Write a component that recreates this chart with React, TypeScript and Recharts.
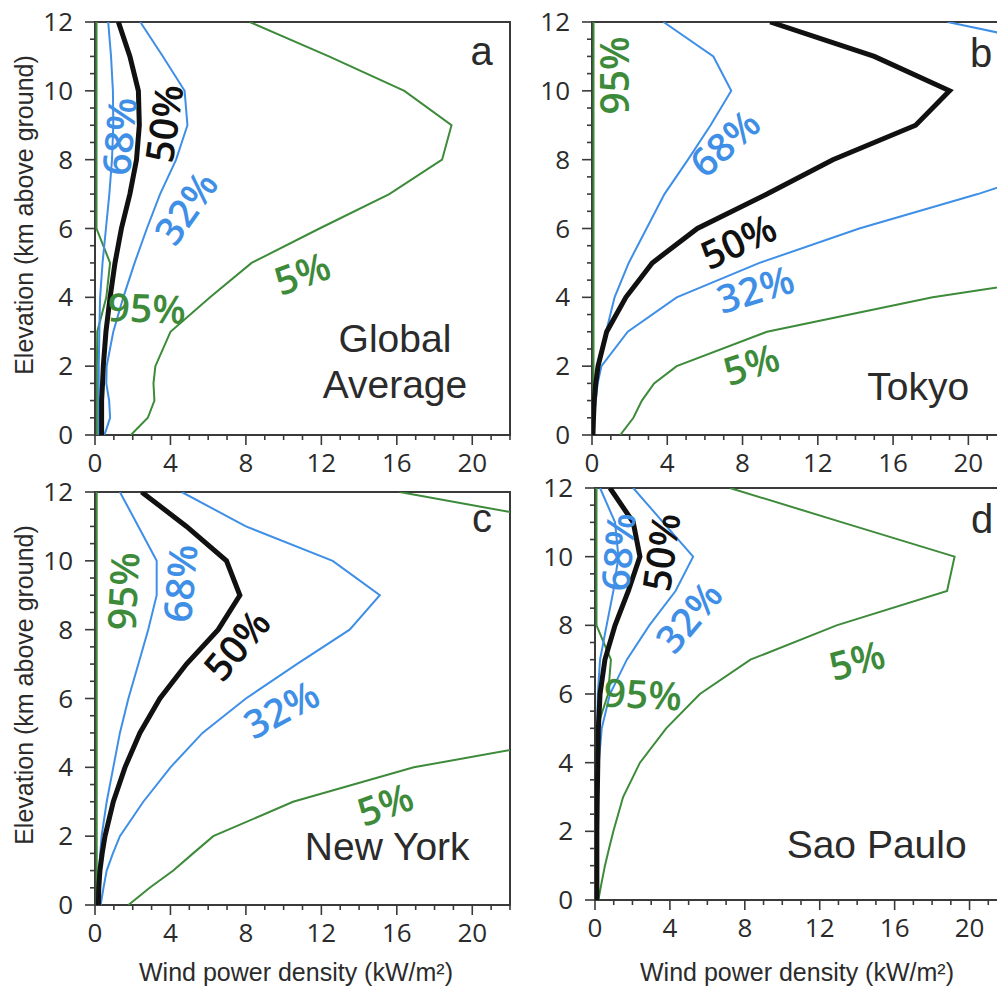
import React from 'react';
import { LineChart, Line, XAxis, YAxis, ReferenceArea, ReferenceDot } from 'recharts';

// elevation levels (km above ground) shared by every profile
const levels = [0, 0.5, 1, 1.5, 2, 3, 4, 5, 6, 7, 8, 9, 10, 11, 12];

// wind power density (kW/m2) exceeded with the given probability, per level
const globalP5 = [1.9, 2.8, 3.15, 3.1, 3.2, 4.0, 6.1, 8.3, 11.9, 15.6, 18.4, 18.9, 16.4, 12.4, 8.2];
const globalP32 = [0.5, 0.8, 0.75, 0.6, 0.62, 0.97, 1.5, 2.1, 2.75, 3.45, 4.3, 4.9, 4.75, 3.6, 2.4];
const globalP50 = [0.35, 0.35, 0.35, 0.4, 0.44, 0.58, 0.8, 1.06, 1.4, 1.85, 2.2, 2.35, 2.3, 1.85, 1.24];
const globalP68 = [0.2, 0.2, 0.2, 0.2, 0.2, 0.23, 0.27, 0.4, 0.58, 0.76, 0.9, 0.97, 0.95, 0.85, 0.7];
const globalP95 = [0.1, 0.1, 0.1, 0.1, 0.1, 0.12, 0.6, 0.8, 0.08, 0.08, 0.08, 0.08, 0.08, 0.08, 0.08];

const tokyoP5 = [1.5, 2.2, 2.65, 3.3, 4.5, 9.3, 18.1, 30, null, null, null, null, null, null, null];
const tokyoP32 = [0.05, 0.1, 0.2, 0.3, 0.5, 1.9, 4.5, 8.9, 14.2, 20.5, 26, 30, 32, 27.6, 18.9];
const tokyoP50 = [0.05, 0.08, 0.12, 0.2, 0.32, 0.78, 1.8, 3.2, 5.6, 9.3, 12.8, 17.2, 19.0, 15.0, 9.47];
const tokyoP68 = [0.05, 0.1, 0.15, 0.25, 0.35, 0.75, 1.2, 1.95, 2.9, 3.85, 5.1, 6.3, 7.4, 6.45, 3.8];
const tokyoP95 = [0.08, 0.08, 0.08, 0.08, 0.08, 0.08, 0.08, 0.08, 0.08, 0.08, 0.08, 0.08, 0.08, 0.08, 0.08];

const newYorkP5 = [1.77, 2.9, 4.15, 5.2, 6.27, 10.5, 16.9, 27, 33, 36, 38, 37, 33, 26.2, 16.15];
const newYorkP32 = [0.3, 0.45, 0.62, 0.95, 1.32, 2.56, 4.0, 5.7, 8.0, 10.7, 13.5, 15.1, 12.6, 8.0, 4.6];
const newYorkP50 = [0.18, 0.2, 0.26, 0.38, 0.53, 0.97, 1.59, 2.38, 3.44, 4.85, 6.53, 7.68, 6.97, 4.85, 2.47];
const newYorkP68 = [0.15, 0.18, 0.22, 0.28, 0.35, 0.62, 0.97, 1.32, 1.77, 2.3, 2.82, 3.27, 3.27, 2.3, 1.32];
const newYorkP95 = [0.09, 0.09, 0.09, 0.09, 0.09, 0.09, 0.09, 0.09, 0.09, 0.09, 0.09, 0.09, 0.09, 0.09, 0.09];

const saoPauloP5 = [0.18, 0.35, 0.53, 0.75, 0.98, 1.5, 2.4, 3.8, 5.6, 8.3, 12.9, 18.8, 19.2, 13.2, 7.2];
const saoPauloP32 = [0.1, 0.1, 0.1, 0.12, 0.13, 0.16, 0.2, 0.36, 0.8, 1.7, 2.9, 4.3, 5.24, 3.64, 2.04];
const saoPauloP50 = [0.1, 0.1, 0.1, 0.1, 0.1, 0.12, 0.15, 0.18, 0.27, 0.53, 1.07, 1.78, 2.4, 2.04, 0.8];
const saoPauloP68 = [0.08, 0.08, 0.08, 0.08, 0.08, 0.08, 0.1, 0.12, 0.15, 0.27, 0.62, 0.98, 1.25, 1.07, 0.27];
const saoPauloP95 = [0.08, 0.08, 0.08, 0.08, 0.08, 0.08, 0.08, 0.1, 0.7, 0.85, 0.08, 0.08, 0.08, 0.08, 0.08];

const majorX = [0, 4, 8, 12, 16, 20];
const majorY = [0, 2, 4, 6, 8, 10, 12];
const xTicks = Array.from({ length: 23 }, (_, i) => i);
const yTicks = Array.from({ length: 25 }, (_, i) => i / 2);

const BLUE = '#3f8fe6';
const GREEN = '#3d8b3a';
const BLACK = '#111111';
const INK = '#2b2b2b';
const FRAME = '#3a3a3a';
const TICK_FONT = '"Open Sans", "DejaVu Sans", sans-serif';
const TEXT_FONT = '"Liberation Sans", Arial, sans-serif';

// room around each plot area for ticks and tick labels
const ML = 70;
const MT = 20;
const MR = 10;
const MB = 45;

type Profile = { key: string; values: (number | null)[]; color: string; width: number };
type Tag = { text: string; v: number; e: number; angle: number; color: string };

function profiles(p5: any[], p32: any[], p50: any[], p68: any[], p95: any[]): Profile[] {
  return [
    { key: 'p95', values: p95, color: GREEN, width: 2 },
    { key: 'p5', values: p5, color: GREEN, width: 2 },
    { key: 'p32', values: p32, color: BLUE, width: 2 },
    { key: 'p68', values: p68, color: BLUE, width: 2 },
    { key: 'p50', values: p50, color: BLACK, width: 5 },
  ];
}

function XTick(props: any) {
  const { x, y, payload } = props;
  const major = majorX.includes(payload.value);
  return (
    <g>
      <line x1={x} y1={y} x2={x} y2={y + (major ? 10 : 5)} stroke={FRAME} strokeWidth={1.6} />
      {major && (
        <text x={x} y={y + 37} textAnchor="middle" fontSize={26} fill={INK} fontFamily={TICK_FONT}>
          {payload.value}
        </text>
      )}
    </g>
  );
}

function YTick(props: any) {
  const { x, y, payload } = props;
  const major = majorY.includes(payload.value);
  return (
    <g>
      <line x1={x} y1={y} x2={x - (major ? 10 : 5)} y2={y} stroke={FRAME} strokeWidth={1.6} />
      {major && (
        <text x={x - 22} y={y + 9} textAnchor="end" fontSize={26} fill={INK} fontFamily={TICK_FONT}>
          {payload.value}
        </text>
      )}
    </g>
  );
}

function tagShape(tag: Tag) {
  return (p: any) => (
    <text
      x={p.cx}
      y={p.cy}
      transform={`rotate(${tag.angle} ${p.cx} ${p.cy})`}
      textAnchor="middle"
      dominantBaseline="central"
      fontSize={39}
      fontWeight={600}
      fill={tag.color}
      fontFamily={TICK_FONT}
    >
      {tag.text}
    </text>
  );
}

function nameShape(lines: string[], fontSize: number) {
  return (p: any) => (
    <text x={p.cx} y={p.cy} textAnchor="middle" fontSize={fontSize} fill={INK} fontFamily={TEXT_FONT}>
      {lines.map((s, i) => (
        <tspan key={i} x={p.cx} dy={i === 0 ? 0 : 46}>
          {s}
        </tspan>
      ))}
    </text>
  );
}

type PanelProps = {
  left: number;
  top: number;
  w: number;
  h: number;
  series: Profile[];
  tags: Tag[];
  letter: { text: string; v: number; e: number };
  name: { lines: string[]; v: number; e: number };
};

function Panel({ left, top, w, h, series, tags, letter, name }: PanelProps) {
  const rows = levels.map((e, i) => {
    const r: any = { elev: e };
    series.forEach((s) => {
      r[s.key] = s.values[i];
    });
    return r;
  });
  return (
    <div style={{ position: 'absolute', left: left - ML, top: top - MT }}>
      <LineChart
        width={ML + w + MR}
        height={MT + h + MB}
        data={rows}
        layout="vertical"
        margin={{ top: MT, right: MR, left: 0, bottom: 0 }}
      >
        <XAxis
          type="number"
          domain={[0, 22]}
          ticks={xTicks}
          interval={0}
          allowDataOverflow
          height={MB}
          axisLine={false}
          tickLine={false}
          tickSize={0}
          tickMargin={0}
          tick={<XTick />}
        />
        <YAxis
          type="number"
          dataKey="elev"
          domain={[0, 12]}
          ticks={yTicks}
          interval={0}
          reversed
          allowDataOverflow
          width={ML}
          axisLine={false}
          tickLine={false}
          tickSize={0}
          tickMargin={0}
          tick={<YTick />}
        />
        <ReferenceArea x1={0} x2={22} y1={0} y2={12} fill="none" stroke={FRAME} strokeWidth={2} ifOverflow="visible" />
        {series.map((s) => (
          <Line
            key={s.key}
            dataKey={s.key}
            stroke={s.color}
            strokeWidth={s.width}
            dot={false}
            activeDot={false}
            isAnimationActive={false}
          />
        ))}
        {tags.map((t, i) => (
          <ReferenceDot key={'t' + i} x={t.v} y={t.e} r={0} ifOverflow="visible" shape={tagShape(t)} />
        ))}
        <ReferenceDot x={letter.v} y={letter.e} r={0} ifOverflow="visible" shape={nameShape([letter.text], 40)} />
        <ReferenceDot x={name.v} y={name.e} r={0} ifOverflow="visible" shape={nameShape(name.lines, 39)} />
      </LineChart>
    </div>
  );
}

const tagsGlobal: Tag[] = [
  { text: '50%', v: 3.6, e: 9.06, angle: -82, color: BLACK },
  { text: '68%', v: 1.22, e: 8.68, angle: -85, color: BLUE },
  { text: '32%', v: 4.77, e: 6.62, angle: -55, color: BLUE },
  { text: '5%', v: 10.96, e: 4.73, angle: -20, color: GREEN },
  { text: '95%', v: 2.75, e: 3.72, angle: 2, color: GREEN },
];
const tagsTokyo: Tag[] = [
  { text: '95%', v: 1.12, e: 10.45, angle: -90, color: GREEN },
  { text: '68%', v: 7.01, e: 8.51, angle: -42, color: BLUE },
  { text: '50%', v: 7.75, e: 5.66, angle: -25, color: BLACK },
  { text: '32%', v: 8.66, e: 4.27, angle: -17, color: BLUE },
  { text: '5%', v: 8.44, e: 2.09, angle: -18, color: GREEN },
];
const tagsNewYork: Tag[] = [
  { text: '95%', v: 1.43, e: 9.12, angle: -87, color: GREEN },
  { text: '68%', v: 4.45, e: 9.35, angle: -85, color: BLUE },
  { text: '50%', v: 7.47, e: 7.58, angle: -50, color: BLACK },
  { text: '32%', v: 9.85, e: 5.72, angle: -28, color: BLUE },
  { text: '5%', v: 15.36, e: 2.96, angle: -20, color: GREEN },
];
const tagsSaoPaulo: Tag[] = [
  { text: '68%', v: 1.17, e: 10.14, angle: -85, color: BLUE },
  { text: '50%', v: 3.47, e: 10.14, angle: -82, color: BLACK },
  { text: '32%', v: 4.96, e: 8.27, angle: -50, color: BLUE },
  { text: '5%', v: 13.97, e: 7.02, angle: -15, color: GREEN },
  { text: '95%', v: 2.56, e: 6.03, angle: 3, color: GREEN },
];

export default function App() {
  return (
    <div
      style={{
        position: 'absolute',
        left: 0,
        top: 0,
        width: 997,
        height: 990,
        overflow: 'hidden',
        background: '#ffffff',
      }}
    >
      <Panel
        left={95}
        top={22}
        w={415}
        h={413}
        series={profiles(globalP5, globalP32, globalP50, globalP68, globalP95)}
        tags={tagsGlobal}
        letter={{ text: 'a', v: 20.5, e: 10.74 }}
        name={{ lines: ['Global', 'Average'], v: 15.9, e: 2.41 }}
      />
      <Panel
        left={592}
        top={22}
        w={414}
        h={413}
        series={profiles(tokyoP5, tokyoP32, tokyoP50, tokyoP68, tokyoP95)}
        tags={tagsTokyo}
        letter={{ text: 'b', v: 20.68, e: 10.69 }}
        name={{ lines: ['Tokyo'], v: 17.34, e: 1.02 }}
      />
      <Panel
        left={95}
        top={492}
        w={415}
        h={413}
        series={profiles(newYorkP5, newYorkP32, newYorkP50, newYorkP68, newYorkP95)}
        tags={tagsNewYork}
        letter={{ text: 'c', v: 20.52, e: 10.84 }}
        name={{ lines: ['New York'], v: 15.49, e: 1.31 }}
      />
      <Panel
        left={595}
        top={488}
        w={412}
        h={412}
        series={profiles(saoPauloP5, saoPauloP32, saoPauloP50, saoPauloP68, saoPauloP95)}
        tags={tagsSaoPaulo}
        letter={{ text: 'd', v: 20.67, e: 10.69 }}
        name={{ lines: ['Sao Paulo'], v: 15.04, e: 1.22 }}
      />
      {/* axis titles shared by the grid */}
      <svg width={997} height={990} style={{ position: 'absolute', left: 0, top: 0, pointerEvents: 'none' }}>
        <g fontFamily={TEXT_FONT} fontSize={25} fill={INK}>
          <text x={0} y={0} transform="translate(33 215) rotate(-90)" textAnchor="middle">
            Elevation (km above ground)
          </text>
          <text x={0} y={0} transform="translate(33 685) rotate(-90)" textAnchor="middle">
            Elevation (km above ground)
          </text>
          <text x={296} y={981} textAnchor="middle">
            Wind power density (kW/m²)
          </text>
          <text x={797} y={981} textAnchor="middle">
            Wind power density (kW/m²)
          </text>
        </g>
      </svg>
    </div>
  );
}
